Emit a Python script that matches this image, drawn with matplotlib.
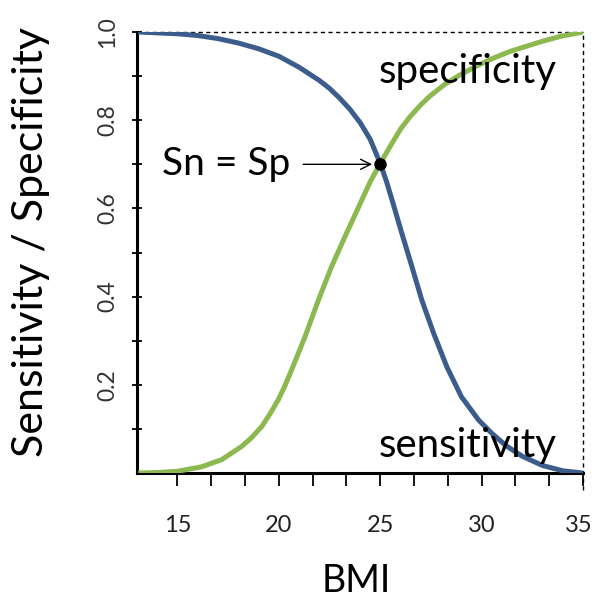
import matplotlib
matplotlib.use("Agg")
import matplotlib.pyplot as plt
from matplotlib.transforms import ScaledTranslation

plt.rcParams['font.family'] = ['Lato', 'DejaVu Sans']

bmi_sn = [13.07, 14, 15, 16, 17, 18, 19, 20, 21, 22, 22.5, 23, 23.5, 24, 24.5, 25, 25.3,
          25.57, 26.06, 26.56, 27.05, 27.63, 28.28, 29.0, 29.85, 30.5, 31.2, 32, 33, 34, 35]
sensitivity = [1.0, 0.998, 0.996, 0.992, 0.985, 0.975, 0.962, 0.945, 0.92, 0.89, 0.872,
               0.85, 0.825, 0.795, 0.757, 0.702, 0.662, 0.621, 0.544, 0.468, 0.392, 0.317,
               0.241, 0.173, 0.12, 0.09, 0.062, 0.038, 0.017, 0.005, 0.0]

bmi_sp = [13.07, 14, 15, 16.19, 17.17, 18.16, 18.65, 19.15, 19.55, 19.97, 20.3, 20.63, 21.29,
          21.95, 22.6, 23.26, 24.09, 24.5, 25, 25.48, 26.0, 26.47, 27.0, 27.46, 28.2, 28.94,
          29.8, 30.59, 31.4, 32.23, 33.0, 33.88, 35]
specificity = [0.0, 0.001, 0.004, 0.014, 0.03, 0.06, 0.08, 0.105, 0.133, 0.166, 0.198, 0.234,
               0.309, 0.392, 0.468, 0.536, 0.619, 0.66, 0.702, 0.74, 0.78, 0.808, 0.835,
               0.855, 0.882, 0.903, 0.924, 0.941, 0.956, 0.968, 0.979, 0.99, 1.0]

cross_x, cross_y = 25.0, 0.70

xticks = [15 + i * 5 / 3 for i in range(13)]
xtick_labels = ['15', '', '', '20', '', '', '25', '', '', '30', '', '', '35']
yticks = [0.1, 0.2, 0.3, 0.4, 0.5, 0.6, 0.7, 0.8, 0.9, 1.0]
ytick_labels = ['', '0.2', '', '0.4', '', '0.6', '', '0.8', '', '1.0']

blue = '#3c5d8c'
green = '#8cb850'

fig = plt.figure(figsize=(5.95, 5.98), dpi=100)
ax = fig.add_axes([0.230, 0.209, 0.750, 0.7375])

ax.plot(bmi_sp, specificity, color=green, lw=3.6, solid_capstyle='butt',
        solid_joinstyle='round', zorder=3)
ax.plot(bmi_sn, sensitivity, color=blue, lw=3.6, solid_capstyle='butt',
        solid_joinstyle='round', zorder=3)
ax.plot([cross_x], [cross_y], 'o', color='black', ms=8, zorder=5)

ax.set_xlim(13, 35)
ax.set_ylim(0, 1)

ax.spines['left'].set_linewidth(2.2)
ax.spines['bottom'].set_linewidth(2.2)
for s in ('top', 'right'):
    ax.spines[s].set_visible(False)
ax.plot([13, 35], [1, 1], ls=(0, (3, 2.5)), color='black', lw=1.0, clip_on=False, zorder=2)
ax.plot([35, 35], [-0.038, 1], ls=(0, (3, 2.5)), color='black', lw=1.0, clip_on=False, zorder=2)

ax.set_xticks(xticks)
ax.set_xticklabels(xtick_labels, fontsize=17, color='#222222')
ax.tick_params(axis='x', direction='out', length=9, width=1.3, pad=21)
last = ax.get_xticklabels()[-1]
last.set_transform(last.get_transform() + ScaledTranslation(-4 / 100, 0, fig.dpi_scale_trans))
ax.set_yticks(yticks)
ax.set_yticklabels(ytick_labels, fontsize=16.5, color='#333333', rotation=90, va='center')
ax.tick_params(axis='y', direction='inout', length=7, width=1.3, pad=10)

ax.set_xlabel('BMI', fontsize=27)
ax.xaxis.set_label_coords(0.491, -0.203)
ax.set_ylabel('Sensitivity / Specificity', fontsize=31)
ax.yaxis.set_label_coords(-0.195, 0.524)

ax.text(29.3, 0.91, 'specificity', fontsize=29, ha='center', va='center')
ax.text(29.3, 0.062, 'sensitivity', fontsize=29, ha='center', va='center')
ax.text(17.42, cross_y, 'Sn = Sp', fontsize=28, ha='center', va='center')
ax.annotate('', xy=(24.6, cross_y), xytext=(21.2, cross_y),
            arrowprops=dict(arrowstyle='->', color='black', lw=1.0, shrinkA=0, shrinkB=0,
                            mutation_scale=18))

fig.savefig('out.png', dpi=100)
